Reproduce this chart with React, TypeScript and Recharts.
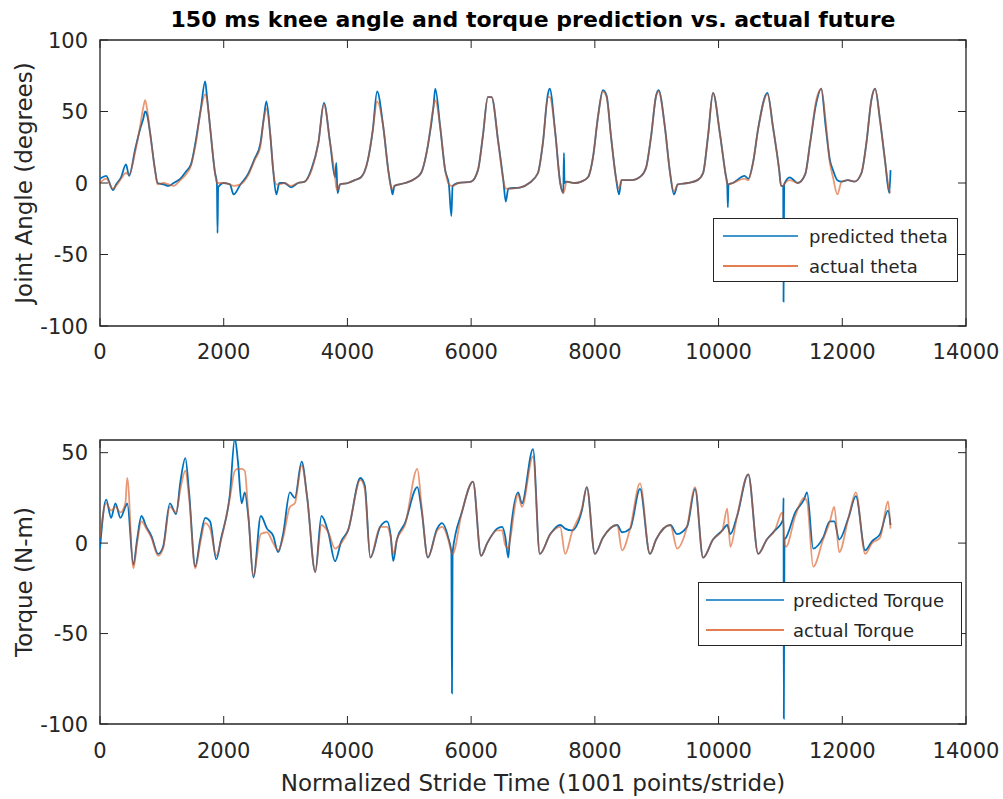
import React from 'react'
import { LineChart, Line, XAxis, YAxis, ReferenceArea, Legend } from 'recharts'

// knee angle (degrees)
const thetaX = [
  0, 100, 210, 260, 340, 420, 470, 570, 650, 700, 730, 760, 810, 890, 930,
  1030, 1110, 1190, 1300, 1390, 1470, 1550, 1630, 1700, 1730, 1780, 1860, 1890, 1900, 1910,
  2000, 2100, 2160, 2270, 2390, 2500, 2590, 2650, 2690, 2750, 2800, 2850, 2900,
  2980, 3090, 3200, 3310, 3420, 3530, 3620, 3720, 3800, 3820, 3840, 3880,
  4010, 4120, 4220, 4330, 4410, 4480, 4580, 4660, 4710, 4730, 4760,
  4930, 5090, 5190, 5300, 5390, 5420, 5500, 5580, 5640, 5680, 5700,
  5790, 6000, 6110, 6190, 6270, 6330, 6440, 6520, 6560, 6600,
  6800, 6940, 7080, 7160, 7240, 7270, 7360, 7440, 7490, 7500, 7510, 7540,
  7670, 7780, 7890, 7970, 8050, 8130, 8190, 8260, 8340, 8390, 8430,
  8590, 8750, 8830, 8910, 8990, 9030, 9130, 9210, 9280, 9340,
  9500, 9660, 9750, 9830, 9910, 10020, 10110, 10140, 10150, 10160,
  10230, 10420, 10480, 10560, 10640, 10790, 10880, 10980, 11010, 11045, 11050, 11060,
  11150, 11280, 11400, 11480, 11580, 11660, 11730, 11800, 11850, 11920,
  11990, 12090, 12200, 12310, 12390, 12470, 12530, 12610, 12690, 12760, 12780,
]
const thetaActual = [
  0, 3, -4, -2, 3, 7, 6, 22, 40, 53, 58, 52, 35, 9, -1,
  0, -1, -2, 2, 6, 12, 28, 51, 62, 58, 39, 7, 0, 0, 0,
  0, -1, -2, -1, 5, 16, 25, 45, 52, 35, 9, -1, -1,
  0, -2, 0, 1, 9, 28, 55, 28, 4, -3, -5, -1,
  0, 2, 4, 16, 37, 57, 39, 9, -4, -4, -2,
  0, 3, 7, 26, 53, 58, 39, 9, -1, -2, -2,
  0, 1, 9, 33, 60, 60, 28, 2, -4, -4,
  -3, 0, 7, 28, 60, 60, 35, 0, -7, -6, -5, 1,
  0, 1, 4, 18, 46, 64, 60, 33, 4, -4, 2,
  2, 5, 11, 33, 61, 64, 40, 9, -6, -1,
  0, 2, 7, 33, 63, 35, 7, -1, -1, -1,
  0, 3, 2, 15, 38, 62, 39, 9, -2, -2, -2, -1,
  2, 0, 6, 28, 58, 66, 44, 14, 4, -8,
  1, 2, 1, 7, 28, 58, 66, 44, 16, -5, -7,
]
const thetaPredicted = [
  3, 5, -5, -1, 4, 13, 5, 24, 38, 45, 50, 48, 35, 9, 0,
  -1, -2, 0, 3, 8, 13, 30, 52, 71, 60, 39, 7, 0, -35, -3,
  0, -1, -8, -1, 6, 17, 27, 46, 57, 35, 9, -8, 0,
  0, -3, 0, 1, 10, 28, 56, 28, 4, 14, -7, -1,
  0, 2, 4, 16, 37, 64, 39, 9, -4, -8, -2,
  0, 3, 7, 26, 53, 66, 39, 9, -1, -23, -2,
  0, 1, 9, 33, 60, 60, 28, 2, -13, -4,
  -3, 0, 7, 28, 62, 66, 35, 0, -7, 21, 0, 1,
  0, 1, 4, 18, 46, 65, 61, 33, 4, -8, 2,
  2, 5, 11, 33, 61, 65, 40, 9, -8, -1,
  0, 2, 7, 33, 63, 35, 7, -1, -17, -1,
  0, 5, 3, 15, 38, 63, 39, 9, -2, -2, -83, -1,
  4, 0, 6, 28, 56, 66, 40, 16, 9, 2,
  1, 2, 1, 7, 28, 58, 66, 44, 16, -7, 9,
]

// knee torque (N-m)
const torqueX = [
  0, 100, 180, 250, 330, 410, 440, 540, 600, 670, 750, 830, 940, 1020,
  1130, 1230, 1300, 1380, 1440, 1540, 1620, 1700, 1780, 1880, 1960,
  2100, 2180, 2230, 2290, 2340, 2400, 2480, 2600, 2700, 2800, 2880, 2960,
  3070, 3150, 3260, 3350, 3480, 3580, 3690, 3800, 3900, 4010,
  4210, 4280, 4370, 4530, 4640, 4700, 4740, 4800, 4930,
  5130, 5200, 5300, 5450, 5530, 5630, 5680, 5690, 5700,
  5850, 6030, 6160, 6260, 6420, 6500, 6550, 6600, 6620,
  6760, 6820, 7000, 7110, 7280, 7440, 7520, 7630, 7790,
  7870, 8000, 8130, 8360, 8440, 8570,
  8730, 8890, 8990, 9220, 9330, 9490,
  9620, 9750, 9910, 10060, 10140, 10190, 10300,
  10480, 10640, 10780, 10910, 11030, 11045, 11050, 11055, 11065, 11090,
  11240, 11380, 11430, 11530, 11690, 11800, 11870, 11950,
  12100, 12220, 12370, 12480, 12610, 12740, 12780,
]
const torqueActual = [
  3, 22, 18, 20, 17, 22, 36, -14, 0, 12, 8, 3, -7, -3,
  20, 17, 30, 40, 25, -14, 0, 11, 8, -7, 2,
  25, 40, 41, 41, 40, 15, -18, 5, 6, 0, -4, 3,
  20, 22, 43, 25, -16, 10, 6, -3, 0, 7,
  35, 30, -8, 9, 9, 3, -6, 2, 10,
  41, 20, -8, 7, 9, 2, -5, -6, -6,
  17, 34, -7, 0, 7, 7, -1, -3, 0,
  27, 20, 48, -6, 5, 9, -6, 6, 19,
  31, -6, 3, 10, -4, 8,
  33, -6, 2, 10, -3, 9,
  31, -8, 2, 7, 19, -2, 15,
  38, -6, 2, 7, 17, 12, 10, 8, 0, -2,
  15, 25, 23, -13, 2, 12, 20, -5,
  14, 28, -6, 0, 3, 23, 8,
]
const torquePredicted = [
  -3, 24, 14, 22, 14, 20, 22, -12, 2, 15, 9, 4, -6, -2,
  22, 16, 34, 47, 28, -13, 2, 14, 12, -9, 3,
  27, 58, 45, 22, 28, 14, -19, 15, 8, 4, -5, 5,
  28, 25, 45, 25, -16, 15, 6, -10, 1, 7,
  36, 32, -8, 9, 12, 4, -10, 2, 11,
  31, 18, -8, 8, 11, 3, -5, -83, -5,
  17, 34, -7, 0, 8, 9, 4, -8, 0,
  28, 22, 52, -6, 5, 10, 8, 7, 18,
  31, -6, 3, 10, 6, 8,
  30, -6, 2, 10, 5, 9,
  30, -8, 2, 7, 10, 5, 15,
  38, -6, 2, 7, 12, 14, 25, -97, 2, 3,
  17, 24, 28, -3, 3, 12, 12, 2,
  14, 26, -4, 1, 5, 18, 10,
]

const xTicks = [0, 2000, 4000, 6000, 8000, 10000, 12000, 14000]
const thetaTicks = [-100, -50, 0, 50, 100]
const torqueTicks = [-100, -50, 0, 50]

const BLUE = '#0072BD'
const ORANGE = '#D95319'
const AXIS = '#262626'
const FONT = '"DejaVu Sans", sans-serif'

const PLOT_LEFT = 100
const PLOT_RIGHT = 966
const TICK_LEN = 8

const thetaData = thetaX.map((x, i) => ({ x, pred: thetaPredicted[i], actual: thetaActual[i] }))
const torqueData = torqueX.map((x, i) => ({ x, pred: torquePredicted[i], actual: torqueActual[i] }))

// MATLAB style: ticks point inward, mirrored on the opposite side
const makeXTick = (top: number, bottom: number) => (props: any) => {
  const { x, y, payload } = props
  return (
    <g>
      <line x1={x} x2={x} y1={bottom} y2={bottom - TICK_LEN} stroke={AXIS} />
      <line x1={x} x2={x} y1={top} y2={top + TICK_LEN} stroke={AXIS} />
      <text x={x} y={y} dy="0.72em" textAnchor="middle" fontSize={21} fill={AXIS} fontFamily={FONT}>
        {payload.value}
      </text>
    </g>
  )
}

const yTick = (props: any) => {
  const { x, y, payload } = props
  return (
    <g>
      <line x1={PLOT_LEFT} x2={PLOT_LEFT + TICK_LEN} y1={y} y2={y} stroke={AXIS} />
      <line x1={PLOT_RIGHT} x2={PLOT_RIGHT - TICK_LEN} y1={y} y2={y} stroke={AXIS} />
      <text x={x} y={y} dy="0.36em" textAnchor="end" fontSize={21} fill={AXIS} fontFamily={FONT}>
        {payload.value}
      </text>
    </g>
  )
}

// legend rows keep the plotting order (predicted first)
const legendBox = (order: string[], lineStart: number, lineWidth: number, gap: number) => (props: any) => {
  const items = order
    .map(name => (props.payload || []).find((p: any) => p.value === name))
    .filter(Boolean)
  return (
    <div
      style={{
        width: '100%',
        height: '100%',
        boxSizing: 'border-box',
        border: `1.3px solid ${AXIS}`,
        background: '#fff',
        paddingTop: 2,
      }}
    >
      {items.map((entry: any) => (
        <div key={entry.value} style={{ display: 'flex', alignItems: 'center', height: 30 }}>
          <svg width={lineStart + lineWidth} height={4} style={{ flex: 'none' }}>
            <line x1={lineStart} x2={lineStart + lineWidth} y1={2} y2={2} stroke={entry.color} strokeWidth={1.6} />
          </svg>
          <span style={{ marginLeft: gap, fontFamily: FONT, fontSize: 18, color: AXIS, whiteSpace: 'nowrap' }}>
            {entry.value}
          </span>
        </div>
      ))}
    </div>
  )
}

export default function App() {
  return (
    <div style={{ position: 'absolute', left: 0, top: 0, width: 1003, height: 799, background: '#fff', overflow: 'hidden' }}>
      <div
        style={{
          position: 'absolute', left: 100, top: 7, width: 866, textAlign: 'center',
          fontFamily: FONT, fontWeight: 'bold', fontSize: 22, lineHeight: '26px', color: '#000',
        }}
      >
        150 ms knee angle and torque prediction vs. actual future
      </div>

      {/* Joint angle panel */}
      <div style={{ position: 'absolute', left: 0, top: 0 }}>
        <LineChart width={1003} height={380} data={thetaData} margin={{ top: 40, right: 37, left: 40, bottom: 24 }}>
          <XAxis
            dataKey="x" type="number" domain={[0, 14000]} ticks={xTicks} interval={0} allowDataOverflow
            height={30} axisLine={false} tickLine={false} tickSize={0} tickMargin={18}
            tick={makeXTick(40, 326)}
          />
          <YAxis
            type="number" domain={[-100, 100]} ticks={thetaTicks} interval={0} allowDataOverflow
            width={60} axisLine={false} tickLine={false} tickSize={0} tickMargin={12} tick={yTick}
            label={{
              value: 'Joint Angle (degrees)', angle: -90, position: 'insideLeft', offset: -16,
              style: { textAnchor: 'middle', fontSize: 23, fill: AXIS, fontFamily: FONT },
            }}
          />
          <Line type="monotone" dataKey="pred" name="predicted theta" stroke={BLUE} strokeWidth={1.8} dot={false} isAnimationActive={false} />
          <Line type="monotone" dataKey="actual" name="actual theta" stroke={ORANGE} strokeOpacity={0.6} strokeWidth={1.8} dot={false} isAnimationActive={false} />
          <ReferenceArea x1={0} x2={14000} y1={-100} y2={100} fill="none" stroke={AXIS} strokeWidth={1.3} ifOverflow="visible" />
          <Legend
            layout="vertical" align="center" verticalAlign="middle"
            wrapperStyle={{ left: 713, top: 218, width: 245, height: 64 }}
            content={legendBox(['predicted theta', 'actual theta'], 9, 75, 11)}
          />
        </LineChart>
      </div>

      {/* Torque panel */}
      <div style={{ position: 'absolute', left: 0, top: 400 }}>
        <LineChart width={1003} height={399} data={torqueData} margin={{ top: 40, right: 37, left: 40, bottom: 45 }}>
          <XAxis
            dataKey="x" type="number" domain={[0, 14000]} ticks={xTicks} interval={0} allowDataOverflow
            height={30} axisLine={false} tickLine={false} tickSize={0} tickMargin={19}
            tick={makeXTick(40, 324)}
          />
          <YAxis
            type="number" domain={[-100, 57]} ticks={torqueTicks} interval={0} allowDataOverflow
            width={60} axisLine={false} tickLine={false} tickSize={0} tickMargin={12} tick={yTick}
            label={{
              value: 'Torque (N-m)', angle: -90, position: 'insideLeft', offset: -16,
              style: { textAnchor: 'middle', fontSize: 23, fill: AXIS, fontFamily: FONT },
            }}
          />
          <Line type="monotone" dataKey="pred" name="predicted Torque" stroke={BLUE} strokeWidth={1.8} dot={false} isAnimationActive={false} />
          <Line type="monotone" dataKey="actual" name="actual Torque" stroke={ORANGE} strokeOpacity={0.6} strokeWidth={1.8} dot={false} isAnimationActive={false} />
          <ReferenceArea x1={0} x2={14000} y1={-100} y2={57} fill="none" stroke={AXIS} strokeWidth={1.3} ifOverflow="visible" />
          <Legend
            layout="vertical" align="center" verticalAlign="middle"
            wrapperStyle={{ left: 698, top: 182, width: 264, height: 64 }}
            content={legendBox(['predicted Torque', 'actual Torque'], 7, 78, 9)}
          />
        </LineChart>
      </div>

      <div
        style={{
          position: 'absolute', left: 100, top: 770, width: 866, textAlign: 'center',
          fontFamily: FONT, fontSize: 23, lineHeight: '26px', color: AXIS,
        }}
      >
        Normalized Stride Time (1001 points/stride)
      </div>
    </div>
  )
}
